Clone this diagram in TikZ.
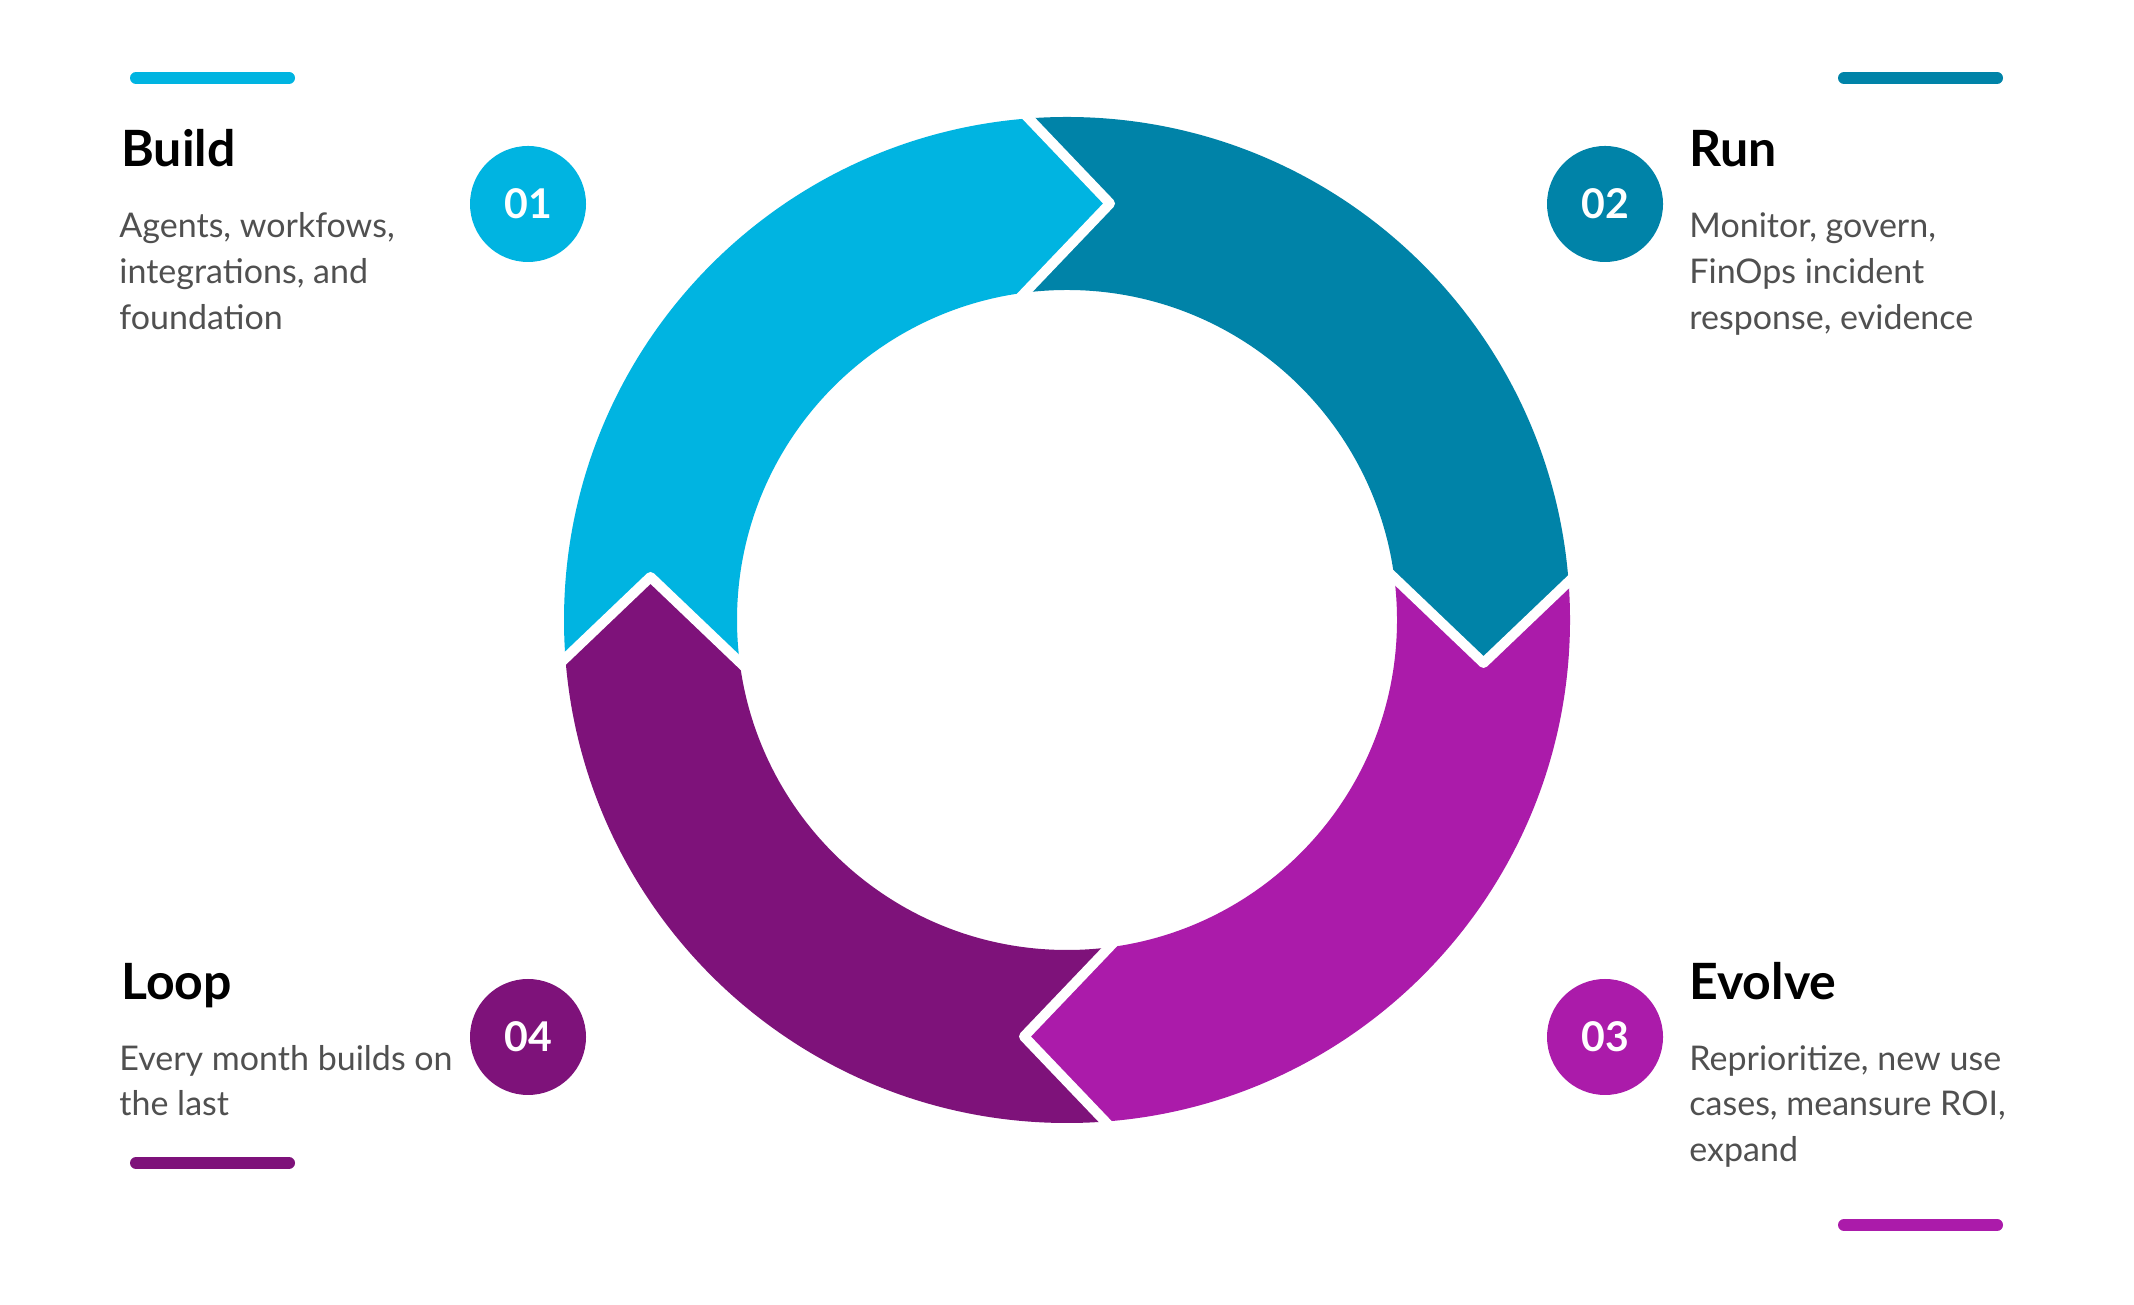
\documentclass[tikz,border=0pt]{standalone}
\usepackage{fontspec}
\setmainfont{Lato}
\usetikzlibrary{calc}
\definecolor{cBuild}{HTML}{00B4E1}
\definecolor{cRun}{HTML}{0083A8}
\definecolor{cEvolve}{HTML}{AB1BAA}
\definecolor{cLoop}{HTML}{7E127A}
\definecolor{cBody}{HTML}{505050}
\begin{document}
\begin{tikzpicture}[x=0.5pt,y=0.5pt,
  heading/.style={anchor=base west, inner sep=0pt, font=\fontsize{25}{30}\selectfont\bfseries, text=black},
  bodyline/.style={anchor=base west, inner sep=0pt, font=\fontsize{17}{20}\selectfont, text=cBody},
  badge/.style={circle, minimum size=58pt, inner sep=0pt, text=white, font=\fontsize{20.5}{24}\selectfont\bfseries},
  bar/.style={line width=6pt, line cap=round},
  gap/.style={draw=white, line width=5pt, line join=round}]
\useasboundingbox (0,0) rectangle (2134,1305);
\fill[white] (0,0) rectangle (2134,1305);
\coordinate (c) at (1067,685);
% chevron boundaries
\foreach \n/\a in {T/90, R/0, B/-90, L/180} {
  \begin{scope}[shift={(c)}, rotate=\a-90]
    \coordinate (\n-o) at (-73,538);
    \coordinate (\n-t) at (43,416.5);
    \coordinate (\n-i) at (-73,295);
  \end{scope}
}
\path[shift={(c)}] coordinate (f135) at (135:800)
                   coordinate (f45) at (45:800)
                   coordinate (fm45) at (-45:800)
                   coordinate (fm135) at (-135:800);
% ring segments
\begin{scope}[even odd rule]
  \clip (c) circle (503) (c) circle (330);
  \fill[cBuild]  (L-o) -- (L-t) -- (L-i) -- (T-i) -- (T-t) -- (T-o) -- (f135) -- cycle;
  \fill[cRun]    (T-o) -- (T-t) -- (T-i) -- (R-i) -- (R-t) -- (R-o) -- (f45) -- cycle;
  \fill[cEvolve] (R-o) -- (R-t) -- (R-i) -- (B-i) -- (B-t) -- (B-o) -- (fm45) -- cycle;
  \fill[cLoop]   (B-o) -- (B-t) -- (B-i) -- (L-i) -- (L-t) -- (L-o) -- (fm135) -- cycle;
\end{scope}
\draw[gap] (T-o) -- (T-t) -- (T-i);
\draw[gap] (R-o) -- (R-t) -- (R-i);
\draw[gap] (B-o) -- (B-t) -- (B-i);
\draw[gap] (L-o) -- (L-t) -- (L-i);
% bars
\draw[bar, cBuild]  (136,1227) -- (289,1227);
\draw[bar, cRun]    (1844,1227) -- (1997,1227);
\draw[bar, cLoop]   (136,142) -- (289,142);
\draw[bar, cEvolve] (1844,80) -- (1997,80);
% badges
\node[badge, fill=cBuild]  (n1) at (528,1101) {01};
\node[badge, fill=cRun]    (n2) at (1605,1101) {02};
\node[badge, fill=cEvolve] (n3) at (1605,268) {03};
\node[badge, fill=cLoop]   (n4) at (528,268) {04};
% headings
\node[heading] (h1) at (121,1138) {Build};
\node[heading] (h2) at (1689,1138) {Run};
\node[heading] (h3) at (1689,305) {Evolve};
\node[heading] (h4) at (121,305) {Loop};
% body text
\node[bodyline] (b1a) at (119,1067) {Agents, workfows,};
\node[bodyline] (b1b) at (119,1021) {integrations, and};
\node[bodyline] (b1c) at (119,975) {foundation};
\node[bodyline] (b2a) at (1689,1067) {Monitor, govern,};
\node[bodyline] (b2b) at (1689,1021) {FinOps incident};
\node[bodyline] (b2c) at (1689,975) {response, evidence};
\node[bodyline] (b3a) at (1689,234) {Reprioritize, new use};
\node[bodyline] (b3b) at (1689,189) {cases, meansure ROI,};
\node[bodyline] (b3c) at (1689,143) {expand};
\node[bodyline] (b4a) at (119,234) {Every month builds on};
\node[bodyline] (b4b) at (119,189) {the last};
\end{tikzpicture}
\end{document}
